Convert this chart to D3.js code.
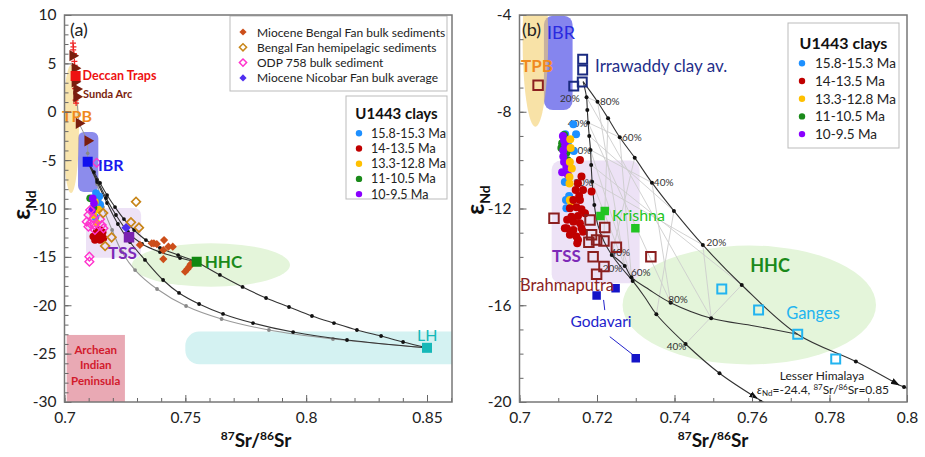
<!DOCTYPE html>
<html><head><meta charset="utf-8">
<script src="https://cdn.jsdelivr.net/npm/d3@7"></script>
<style>body{margin:0;background:#fff;} text{font-family:Lato,"Open Sans",sans-serif;}</style>
</head><body><svg id="c" width="925" height="457"></svg>
<script>
// ---------------- DATA ----------------
const seriesNames = ["15.8-15.3 Ma","14-13.5 Ma","13.3-12.8 Ma","11-10.5 Ma","10-9.5 Ma"];
const seriesColors = ["#1e90ff","#c00000","#ffc000","#1a8a1a","#8a00ff"];
const legendA = ["Miocene Bengal Fan bulk sediments","Bengal Fan hemipelagic sediments","ODP 758 bulk sediment","Miocene Nicobar Fan bulk average"];
const xTicksA = [0.7,0.75,0.8,0.85];
const yTicksA = [-30,-25,-20,-15,-10,-5,0,5,10];
const xTicksB = [0.7,0.72,0.74,0.76,0.78,0.8];
const yTicksB = [-20,-16,-12,-8,-4];

// Panel (a) sources
const deccanTraps = [[0.7046,3.7]];
const deccanSamples = [[0.7035,7.1],[0.7037,6.7],[0.7036,6.4],[0.7039,6.0],[0.7041,5.2],[0.7042,4.8],[0.7043,3.1],[0.7044,2.4],[0.7046,1.2],[0.7048,0.9]];
const sundaArc = [[0.7034,5.8],[0.7043,4.5],[0.7043,3.1],[0.7050,2.35],[0.7050,1.55],[0.7060,-1.2],[0.7096,-3.0]];
const ibrA = [[0.7096,-5.16]];
const hhcA = [[0.7547,-15.5]];
const lhA = [[0.85,-24.4]];
const tssA = [[0.7267,-12.98]];
const bengalBulk = [[0.7370,-13.60],[0.7382,-13.67],[0.7412,-13.26],[0.7430,-13.95],[0.7448,-13.95],[0.7409,-14.29],[0.7409,-15.22],[0.7312,-13.77],[0.7361,-13.60],[0.7499,-16.53],[0.7509,-16.25],[0.7517,-16.0],[0.7522,-15.75]];
const bengalHemi = [[0.7296,-9.3],[0.7275,-11.43],[0.7308,-11.98],[0.7195,-12.98],[0.7168,-13.88],[0.7160,-10.47]];
const odp758 = [[0.7133,-5.27],[0.7106,-10.16],[0.7099,-10.67],[0.7092,-11.36],[0.7106,-11.53],[0.7119,-11.01],[0.7123,-11.71],[0.7147,-11.12],[0.7154,-11.71],[0.7161,-12.05],[0.7099,-11.88],[0.7126,-12.22],[0.7103,-14.98],[0.7103,-15.50]];
const nicobar = [[0.7255,-11.98]];
const clayA_158 = [[0.7130,-8.4],[0.7144,-8.75],[0.7136,-9.2],[0.7148,-9.6],[0.7128,-10.9]];
const clayA_140 = [[0.7133,-12.4],[0.7147,-12.2],[0.7119,-12.9],[0.7140,-12.9],[0.7154,-12.74],[0.7126,-13.26],[0.7147,-13.26],[0.7161,-13.08],[0.7135,-12.6],[0.7158,-12.45]];
const clayA_133 = [[0.7126,-9.3],[0.7119,-10.67],[0.7140,-10.1],[0.7133,-11.5]];
const clayA_110 = [[0.7106,-8.95],[0.7120,-9.9]];
const clayA_100 = [[0.7117,-8.95],[0.7122,-9.45],[0.7114,-10.2]];
// Panel (a) mixing curves
const mixA_ibrHhc1 = [[0.7096,-5.16],[0.7122,-6.23],[0.7147,-7.36],[0.7176,-8.61],[0.7209,-9.85],[0.7246,-11.09],[0.7288,-12.22],[0.7337,-13.26],[0.7395,-14.08],[0.7470,-14.81],[0.7547,-15.5]];
const mixA_ibrHhc2 = [[0.7096,-5.16],[0.7135,-7.05],[0.7172,-8.92],[0.7213,-10.67],[0.7263,-12.43],[0.7321,-13.67],[0.7395,-14.5],[0.7478,-15.12],[0.7547,-15.5]];
const mixA_ibrLh1 = [[0.7096,-5.16],[0.7135,-7.26],[0.7176,-9.43],[0.7221,-11.6],[0.7271,-13.46],[0.7333,-15.32],[0.7408,-17.39],[0.7474,-18.73],[0.7557,-19.87],[0.7656,-20.90],[0.7780,-21.84],[0.7946,-22.77],[0.8169,-23.59],[0.85,-24.4]];
const mixA_ibrLh2 = [[0.7096,-5.16],[0.7135,-7.47],[0.7159,-9.85],[0.7197,-12.22],[0.7238,-14.5],[0.7292,-16.36],[0.7383,-18.32],[0.7503,-20.08],[0.7650,-21.42],[0.7846,-22.56],[0.8111,-23.49],[0.85,-24.4]];
const mixA_hhcLh = [[0.7547,-15.5],[0.7643,-16.87],[0.7737,-18.11],[0.7834,-19.25],[0.7929,-20.18],[0.8024,-21.11],[0.8115,-21.84],[0.8210,-22.56],[0.8310,-23.18],[0.8401,-23.80],[0.85,-24.4]];
const sundaLine = [[0.7050,1.55],[0.7060,-1.2],[0.7096,-3.0],[0.7096,-5.16]];

// Panel (b)
const clayB_158 = [[0.7139,-8.52],[0.7146,-8.93],[0.7118,-8.93],[0.7125,-9.25],[0.7140,-9.62],[0.7120,-11.65],[0.7128,-11.48],[0.7121,-11.99],[0.7117,-10.9]];
const clayB_140 = [[0.7156,-9.99],[0.7160,-10.68],[0.7151,-10.96],[0.7145,-11.23],[0.7164,-11.23],[0.7154,-11.48],[0.7139,-11.65],[0.7156,-11.65],[0.7130,-11.99],[0.7147,-11.95],[0.7160,-12.03],[0.7134,-12.34],[0.7151,-12.31],[0.7169,-12.20],[0.7123,-12.47],[0.7139,-12.55],[0.7156,-12.61],[0.7122,-12.82],[0.7139,-12.89],[0.7160,-12.82],[0.7130,-13.09],[0.7147,-13.16],[0.7151,-13.30],[0.7164,-12.96],[0.7186,-11.30],[0.7149,-13.44],[0.7117,-12.82]];
const clayB_133 = [[0.7131,-9.14],[0.7132,-9.5],[0.7130,-10.08],[0.7129,-10.7],[0.7129,-10.97],[0.7130,-11.65],[0.7133,-11.72],[0.7135,-10.35]];
const clayB_110 = [[0.7115,-8.96],[0.7121,-9.69],[0.7110,-9.3],[0.7124,-10.0],[0.7108,-9.5]];
const clayB_100 = [[0.7115,-9.19],[0.7113,-9.60],[0.7113,-9.85],[0.7115,-10.08],[0.7121,-10.28],[0.7110,-10.5],[0.7118,-9.4],[0.7112,-9.0],[0.7125,-10.6]];
const irrawaddy = [[0.7163,-5.83],[0.7163,-6.27],[0.7162,-6.77],[0.7140,-6.94]];
const brahmaputra = [[0.7048,-6.9],[0.7089,-12.40],[0.7182,-12.48],[0.7220,-12.79],[0.7186,-13.09],[0.7179,-13.40],[0.7199,-13.30],[0.7218,-13.34],[0.7250,-13.60],[0.7190,-13.99],[0.7218,-14.40],[0.7199,-14.72],[0.7339,-13.99]];
const krishna = [[0.7220,-12.10],[0.7209,-12.31],[0.7299,-12.82]];
const godavari = [[0.7199,-15.60],[0.7248,-15.30],[0.7300,-18.19]];
const ganges = [[0.7522,-15.33],[0.7617,-16.2],[0.7718,-17.2],[0.7816,-18.22]];
const mixB_1 = [[0.71642,-6.757],[0.72013,-7.584],[0.72286,-8.270],[0.72587,-9.056],[0.72973,-9.899],[0.73418,-10.933],[0.73985,-12.10],[0.74731,-13.508],[0.75735,-15.162],[0.77176,-17.2],[0.78680,-18.33],[0.79794,-19.30],[0.8020,-19.55]];
const mixB_2 = [[0.71642,-6.757],[0.71730,-7.402],[0.71750,-7.93],[0.71771,-8.452],[0.71800,-9.0],[0.71833,-9.581],[0.71850,-10.2],[0.71874,-10.891],[0.71931,-11.854],[0.72021,-12.681],[0.72175,-13.343],[0.72381,-13.921],[0.72638,-14.459],[0.72921,-14.996],[0.73230,-15.658],[0.73532,-16.373],[0.74286,-17.601],[0.75161,-18.812],[0.76139,-19.854],[0.7650,-20.2]];
const mixB_3 = [[0.72381,-13.921],[0.72716,-14.376],[0.72888,-14.84],[0.73359,-15.368],[0.73900,-15.893],[0.74947,-16.538],[0.76062,-16.856],[0.77176,-17.2]];
const dotsB_1 = [[0.72013,-7.584],[0.72286,-8.270],[0.72587,-9.056],[0.72973,-9.899],[0.73418,-10.933],[0.73985,-12.10],[0.74731,-13.508],[0.75735,-15.162],[0.78680,-18.33],[0.79923,-19.38]];
const dotsB_2 = [[0.71730,-7.402],[0.71750,-7.93],[0.71771,-8.452],[0.71800,-9.0],[0.71833,-9.581],[0.71850,-10.2],[0.71874,-10.891],[0.71931,-11.854],[0.72381,-13.921],[0.72921,-14.996],[0.73532,-16.373],[0.74286,-17.601],[0.75161,-18.812],[0.7622,-20.0]];
const dotsB_3 = [[0.72716,-14.376],[0.72888,-14.84],[0.73900,-15.893],[0.74947,-16.538]];
const gridB = [
 [[0.71730,-7.402],[0.72013,-7.584]],[[0.71771,-8.452],[0.72587,-9.056]],[[0.71833,-9.581],[0.73418,-10.933]],[[0.71874,-10.891],[0.74731,-13.508]],
 [[0.71730,-7.402],[0.74947,-16.538]],[[0.71771,-8.452],[0.73900,-15.893]],[[0.71833,-9.581],[0.72888,-14.84]],[[0.71874,-10.891],[0.72716,-14.376]],
 [[0.72013,-7.584],[0.72716,-14.376]],[[0.72587,-9.056],[0.72888,-14.84]],[[0.73418,-10.933],[0.73900,-15.893]],[[0.74731,-13.508],[0.74947,-16.538]],
 [[0.72286,-8.270],[0.72175,-13.343]],[[0.73985,-12.10],[0.73532,-16.373]],[[0.75735,-15.162],[0.74286,-17.601]],
 [[0.72973,-9.899],[0.72381,-13.921]],[[0.71800,-9.0],[0.73985,-12.10]],[[0.71850,-10.2],[0.75735,-15.162]]
];
const pctLabelsB = [["20%",0.7130,-7.42],["40%",0.7150,-8.45],["60%",0.7160,-9.58],["80%",0.7164,-10.89],
 ["80%",0.7233,-7.56],["60%",0.7290,-9.04],["40%",0.7372,-10.90],["20%",0.7508,-13.40],
 ["40%",0.7260,-13.79],["20%",0.7240,-14.47],["60%",0.7313,-14.64],["80%",0.7409,-15.75],["40%",0.7405,-17.68]];

// ---------------- DRAW ----------------
const svg = d3.select('#c');
const xa = d3.scaleLinear().domain([0.7,0.85]).range([64.5,427]);
const ya = d3.scaleLinear().domain([-30,10]).range([402,15]);
const xb = d3.scaleLinear().domain([0.7,0.8]).range([519.5,907]);
const yb = d3.scaleLinear().domain([-20,-4]).range([402,15]);
const FA = {x0:64.5,x1:452,y0:15,y1:402};
const FB = {x0:519.5,x1:907,y0:15,y1:402};

const defs = svg.append('defs');
defs.append('clipPath').attr('id','ca').append('rect').attr('x',FA.x0).attr('y',FA.y0).attr('width',FA.x1-FA.x0).attr('height',FA.y1-FA.y0);
defs.append('clipPath').attr('id','cb').append('rect').attr('x',FB.x0).attr('y',FB.y0).attr('width',FB.x1-FB.x0).attr('height',FB.y1-FB.y0);
defs.append('marker').attr('id','arr').attr('viewBox','0 0 10 10').attr('refX',9).attr('refY',5)
  .attr('markerWidth',9).attr('markerHeight',9).attr('markerUnits','userSpaceOnUse').attr('orient','auto')
  .append('path').attr('d','M0,1.5L10,5L0,8.5Z').attr('fill','#111');

function axes(x,y,F,xMaj,xMin,yMaj,yMin){
  const g = svg.append('g');
  const fmt = d=>String(d);
  g.append('g').attr('transform',`translate(0,${F.y1})`).call(d3.axisBottom(x).tickValues(xMin).tickSize(-4).tickFormat(''));
  g.append('g').attr('transform',`translate(0,${F.y1})`).call(d3.axisBottom(x).tickValues(xMaj).tickSize(-7).tickPadding(10).tickFormat(fmt));
  g.append('g').attr('transform',`translate(${F.x0},0)`).call(d3.axisLeft(y).tickValues(yMin).tickSize(-4).tickFormat(''));
  g.append('g').attr('transform',`translate(${F.x0},0)`).call(d3.axisLeft(y).tickValues(yMaj).tickSize(-7).tickPadding(8).tickFormat(fmt));
  g.selectAll('.domain').remove();
  g.selectAll('.tick line').attr('stroke','#666');
  g.selectAll('.tick text').attr('font-size',15.5).attr('fill','#222').attr('font-family','Lato, sans-serif');
  g.append('rect').attr('x',F.x0).attr('y',F.y0).attr('width',F.x1-F.x0).attr('height',F.y1-F.y0)
    .attr('fill','none').attr('stroke','#777').attr('stroke-width',1.5);
}
function titles(cx, ylx, ycy){
  const t = svg.append('text').attr('x',cx).attr('y',447).attr('text-anchor','middle').attr('font-weight','bold').attr('font-size',19).attr('fill','#111');
  t.append('tspan').attr('font-size',12).attr('dy',-7).text('87');
  t.append('tspan').attr('dy',7).text('Sr/');
  t.append('tspan').attr('font-size',12).attr('dy',-7).text('86');
  t.append('tspan').attr('dy',7).text('Sr');
  const e = svg.append('text').attr('transform',`translate(${ylx},${ycy}) rotate(-90)`).attr('text-anchor','middle').attr('font-weight','bold').attr('fill','#111');
  e.append('tspan').attr('font-size',24).text('ε');
  e.append('tspan').attr('font-size',14).attr('dy',6).text('Nd');
}
const line = (x,y)=>d3.line().x(d=>x(d[0])).y(d=>y(d[1]));
function sym(g,data,x,y,type,size,fill,stroke,sw,rot){
  g.selectAll(null).data(data).enter().append('path')
   .attr('d',d3.symbol().type(type).size(size))
   .attr('transform',d=>`translate(${x(d[0])},${y(d[1])}) rotate(${rot||0})`)
   .attr('fill',fill).attr('stroke',stroke||'none').attr('stroke-width',sw||0);
}
function dots(g,data,x,y,r,c){
  g.selectAll(null).data(data).enter().append('circle').attr('cx',d=>x(d[0])).attr('cy',d=>y(d[1])).attr('r',r).attr('fill',c);
}
function label(g,txt,px,py,opt){
  const t=g.append('text').attr('x',px).attr('y',py).text(txt).attr('dominant-baseline','central');
  for(const k in opt) t.attr(k,opt[k]);
  return t;
}

// ===== Panel (a) =====
const ga = svg.append('g').attr('clip-path','url(#ca)');
ga.append('rect').attr('x',xa(0.7009)).attr('y',ya(-23.07)).attr('width',xa(0.725)-xa(0.7009)).attr('height',ya(-30)-ya(-23.07)).attr('fill','#e9a9b4');
ga.append('rect').attr('x',xa(0.75)).attr('y',ya(-22.72)).attr('width',xa(0.875)-xa(0.75)).attr('height',ya(-26.1)-ya(-22.72)).attr('rx',14).attr('ry',14).attr('fill','#d4f2f2');
ga.append('ellipse').attr('cx',xa(0.7606)).attr('cy',ya(-15.84)).attr('rx',xa(0.7933)-xa(0.7606)).attr('ry',ya(-18.09)-ya(-15.84)).attr('fill','#e4f5da');
ga.append('rect').attr('x',xa(0.7089)).attr('y',ya(-9.95)).attr('width',xa(0.7317)-xa(0.7089)).attr('height',ya(-15.1)-ya(-9.95)).attr('rx',7).attr('fill','#ede2f6');
ga.append('rect').attr('x',xa(0.7056)).attr('y',ya(-2.1)).attr('width',xa(0.714)-xa(0.7056)).attr('height',ya(-8.3)-ya(-2.1)).attr('rx',6).attr('fill','#8c8cec');
ga.append('ellipse').attr('cx',xa(0.7027)).attr('cy',ya(-1.79)).attr('rx',xa(0.706)-xa(0.7027)).attr('ry',ya(-8.4)-ya(-1.79)).attr('fill','#f4cf6c').attr('fill-opacity',0.55);

const lAc = line(xa,ya).curve(d3.curveCatmullRom);
ga.append('path').attr('d',line(xa,ya)(sundaLine)).attr('fill','none').attr('stroke','#999').attr('stroke-width',1);
dots(ga,[[0.7096,-4.3]],xa,ya,1.8,'#888');
[[mixA_ibrLh2,'#999'],[mixA_ibrLh1,'#333'],[mixA_ibrHhc2,'#333'],[mixA_ibrHhc1,'#333'],[mixA_hhcLh,'#333']].forEach(([d,c])=>{
  ga.append('path').attr('d',lAc(d)).attr('fill','none').attr('stroke',c).attr('stroke-width',1.1);
  dots(ga,d.slice(1,-1),xa,ya,1.9,c==='#999'?'#888':'#111');
});

deccanSamples.forEach(d=>{
  const px=xa(d[0]),py=ya(d[1]);
  ga.append('path').attr('d',`M${px-3},${py}H${px+3}M${px},${py-3}V${py+3}`).attr('stroke','#ee2222').attr('stroke-width',1.2);
});
sym(ga,sundaArc,xa,ya,d3.symbolTriangle,55,'#7a1e0e','none',0,90);
sym(ga,deccanTraps,xa,ya,d3.symbolSquare,100,'#ee1111');
dots(ga,clayA_158,xa,ya,3.8,seriesColors[0]);
dots(ga,clayA_133,xa,ya,3.8,seriesColors[2]);
dots(ga,clayA_110,xa,ya,3.8,seriesColors[3]);
dots(ga,clayA_100,xa,ya,3.8,seriesColors[4]);
dots(ga,clayA_140,xa,ya,3.8,seriesColors[1]);
sym(ga,odp758,xa,ya,d3.symbolSquare,38,'none','#ff33cc',1.4,45);
sym(ga,bengalHemi,xa,ya,d3.symbolSquare,38,'none','#c8861a',1.7,45);
sym(ga,bengalBulk,xa,ya,d3.symbolSquare,34,'#cc4e1a','none',0,45);
sym(ga,nicobar,xa,ya,d3.symbolSquare,45,'#4f2ef0','none',0,45);
sym(ga,tssA,xa,ya,d3.symbolSquare,110,'#7a22b0');
sym(ga,ibrA,xa,ya,d3.symbolSquare,100,'#1010ee');
sym(ga,hhcA,xa,ya,d3.symbolSquare,100,'#118811');
sym(ga,lhA,xa,ya,d3.symbolSquare,100,'#16b8b8');

const la = svg.append('g');
label(la,'(a)',70,29,{'font-size':18,fill:'#222'});
label(la,'Deccan Traps',xa(0.7046)+7,ya(3.7),{'font-size':12.5,'font-weight':'bold',fill:'#ee1111'});
label(la,'Sunda Arc',83,93,{'font-size':11,'font-weight':'bold',fill:'#7a1e0e'});
label(la,'TPB',62,115,{'font-size':16,'font-weight':'bold',fill:'#f08a1e'});
label(la,'IBR',98,164,{'font-size':16,'font-weight':'bold',fill:'#1a1aee'});
label(la,'TSS',108,252,{'font-size':17,'font-weight':'bold',fill:'#7d2ab8'});
label(la,'HHC',xa(0.7547)+8,ya(-15.5),{'font-size':17,'font-weight':'bold',fill:'#1a8a1a'});
label(la,'LH',417,334,{'font-size':16,fill:'#16b8b8'});
['Archean','Indian','Peninsula'].forEach((s,i)=>label(la,s,xa(0.7129),349+i*15.5,{'font-size':11.5,'font-weight':'bold',fill:'#d21a2c','text-anchor':'middle'}));

const lg = svg.append('g');
lg.append('rect').attr('x',230).attr('y',16).attr('width',217).attr('height',75).attr('fill','#fff').attr('stroke','#bbb');
const lsym = [['#cc4e1a','none'],['none','#c8861a'],['none','#ff33cc'],['#4f2ef0','none']];
legendA.forEach((s,i)=>{
  const yy=32+i*15.3;
  lg.append('path').attr('d',d3.symbol().type(d3.symbolSquare).size(26)).attr('transform',`translate(243,${yy}) rotate(45)`)
    .attr('fill',lsym[i][0]).attr('stroke',lsym[i][1]).attr('stroke-width',1.5);
  label(lg,s,257,yy,{'font-size':12,fill:'#222'});
});
function clayLegend(x0,y0,w,h,titleY,itemY0,dy,fs,tfs,dotX,txtX){
  lg.append('rect').attr('x',x0).attr('y',y0).attr('width',w).attr('height',h).attr('fill','#fff').attr('stroke','#bbb');
  label(lg,'U1443 clays',x0+w/2,titleY,{'font-size':tfs,'font-weight':'bold',fill:'#111','text-anchor':'middle'});
  seriesNames.forEach((s,i)=>{
    lg.append('circle').attr('cx',dotX).attr('cy',itemY0+i*dy).attr('r',3.2).attr('fill',seriesColors[i]);
    label(lg,s,txtX,itemY0+i*dy,{'font-size':fs,fill:'#222'});
  });
}
clayLegend(346,96,101,103,113,133.3,15.2,12.5,15,359,371);

axes(xa,ya,FA,xTicksA,d3.range(0.70,0.8605,0.01),yTicksA,d3.range(-30,10.5,1));
titles(256,30,205);

// ===== Panel (b) =====
const gb = svg.append('g').attr('clip-path','url(#cb)');
gb.append('rect').attr('x',xb(0.7083)).attr('y',yb(-10.02)).attr('width',xb(0.731)-xb(0.7083)).attr('height',yb(-15.09)-yb(-10.02)).attr('rx',9).attr('fill','#ede2f6');
gb.append('ellipse').attr('cx',xb(0.7593)).attr('cy',yb(-15.99)).attr('rx',xb(0.7920)-xb(0.7593)).attr('ry',yb(-18.45)-yb(-15.99)).attr('fill','#e4f5da');
gb.append('rect').attr('x',xb(0.7063)).attr('y',yb(-4.03)).attr('width',xb(0.7137)-xb(0.7063)).attr('height',yb(-7.93)-yb(-4.03)).attr('rx',9).attr('fill','#8585ee');
gb.append('ellipse').attr('cx',xb(0.7041)).attr('cy',yb(-5.0)).attr('rx',xb(0.7074)-xb(0.7041)).attr('ry',yb(-8.62)-yb(-5.0)).attr('fill','#f4cf6c').attr('fill-opacity',0.6);

const lB = line(xb,yb).curve(d3.curveCatmullRom);
gridB.forEach(s=>gb.append('path').attr('d',line(xb,yb)(s)).attr('stroke','#cdcdcd').attr('stroke-width',0.9).attr('fill','none'));
gb.append('path').attr('d',lB(mixB_1.slice(0,12))).attr('fill','none').attr('stroke','#333').attr('stroke-width',1.1).attr('marker-end','url(#arr)');
gb.append('path').attr('d',lB(mixB_1.slice(11))).attr('fill','none').attr('stroke','#333').attr('stroke-width',1.1);
gb.append('path').attr('d',lB(mixB_2.slice(0,19))).attr('fill','none').attr('stroke','#333').attr('stroke-width',1.1).attr('marker-end','url(#arr)');
gb.append('path').attr('d',lB(mixB_2.slice(18))).attr('fill','none').attr('stroke','#333').attr('stroke-width',1.1);
gb.append('path').attr('d',lB(mixB_3)).attr('fill','none').attr('stroke','#333').attr('stroke-width',1.1);
dots(gb,dotsB_1,xb,yb,2,'#111');
dots(gb,dotsB_2,xb,yb,2,'#111');
dots(gb,dotsB_3,xb,yb,2,'#111');
pctLabelsB.forEach(p=>label(gb,p[0],xb(p[1]),yb(p[2]),{'font-size':10,fill:'#333','text-anchor':'middle'}));

gb.append('path').attr('d',`M${xb(0.7217)},${yb(-15.78)}L${xb(0.7220)},${yb(-16.2)}`).attr('stroke','#2222cc').attr('stroke-width',1);
gb.append('path').attr('d',`M${xb(0.7233)},${yb(-17.3)}L${xb(0.7293)},${yb(-18.05)}`).attr('stroke','#2222cc').attr('stroke-width',1);

dots(gb,clayB_158,xb,yb,4,seriesColors[0]);
dots(gb,clayB_110,xb,yb,4,seriesColors[3]);
dots(gb,clayB_100,xb,yb,4,seriesColors[4]);
dots(gb,clayB_133,xb,yb,4,seriesColors[2]);
dots(gb,clayB_140,xb,yb,4,seriesColors[1]);
sym(gb,brahmaputra,xb,yb,d3.symbolSquare,90,'none','#8b1f1f',2);
sym(gb,irrawaddy,xb,yb,d3.symbolSquare,80,'none','#1a2a80',2);
sym(gb,krishna,xb,yb,d3.symbolSquare,72,'#22c422');
sym(gb,godavari,xb,yb,d3.symbolSquare,72,'#1414c8');
sym(gb,ganges,xb,yb,d3.symbolSquare,80,'none','#22b4f0',2);

const lb = svg.append('g');
label(lb,'(b)',522,29,{'font-size':18,fill:'#222'});
label(lb,'IBR',547,32,{'font-size':18,fill:'#2a2ae0'});
label(lb,'TPB',521,65,{'font-size':17,'font-weight':'bold',fill:'#f08a1e'});
label(lb,'Irrawaddy clay av.',595,65,{'font-size':17,fill:'#1f2f8a'});
label(lb,'Krishna',612,214,{'font-size':16,fill:'#22c422'});
label(lb,'TSS',552,255,{'font-size':17,'font-weight':'bold',fill:'#7d2ab8'});
label(lb,'Brahmaputra',520,285,{'font-size':16.5,fill:'#8b1f1f'});
label(lb,'Godavari',601,321,{'font-size':15.5,fill:'#2222cc','text-anchor':'middle'});
label(lb,'HHC',770,265,{'font-size':18,'font-weight':'bold',fill:'#1a8a1a','text-anchor':'middle'});
label(lb,'Ganges',813,313,{'font-size':16.5,fill:'#22b4f0','text-anchor':'middle'});
label(lb,'Lesser Himalaya',822,375,{'font-size':12,fill:'#222','text-anchor':'middle'});
const lh2 = lb.append('text').attr('x',823).attr('y',394).attr('text-anchor','middle').attr('font-size',12).attr('fill','#222');
lh2.append('tspan').attr('font-style','italic').text('ε');
lh2.append('tspan').attr('font-size',8).attr('dy',2).text('Nd');
lh2.append('tspan').attr('dy',-2).text('=-24.4, ');
lh2.append('tspan').attr('font-size',8).attr('dy',-4).text('87');
lh2.append('tspan').attr('dy',4).text('Sr/');
lh2.append('tspan').attr('font-size',8).attr('dy',-4).text('86');
lh2.append('tspan').attr('dy',4).text('Sr=0.85');

clayLegend(788,23,111,125,42,63.3,17.7,13.5,16,802,815);

axes(xb,yb,FB,xTicksB,d3.range(0.70,0.8005,0.01),yTicksB,d3.range(-20,-3.5,1));
titles(713,484,200);
</script></body></html>
